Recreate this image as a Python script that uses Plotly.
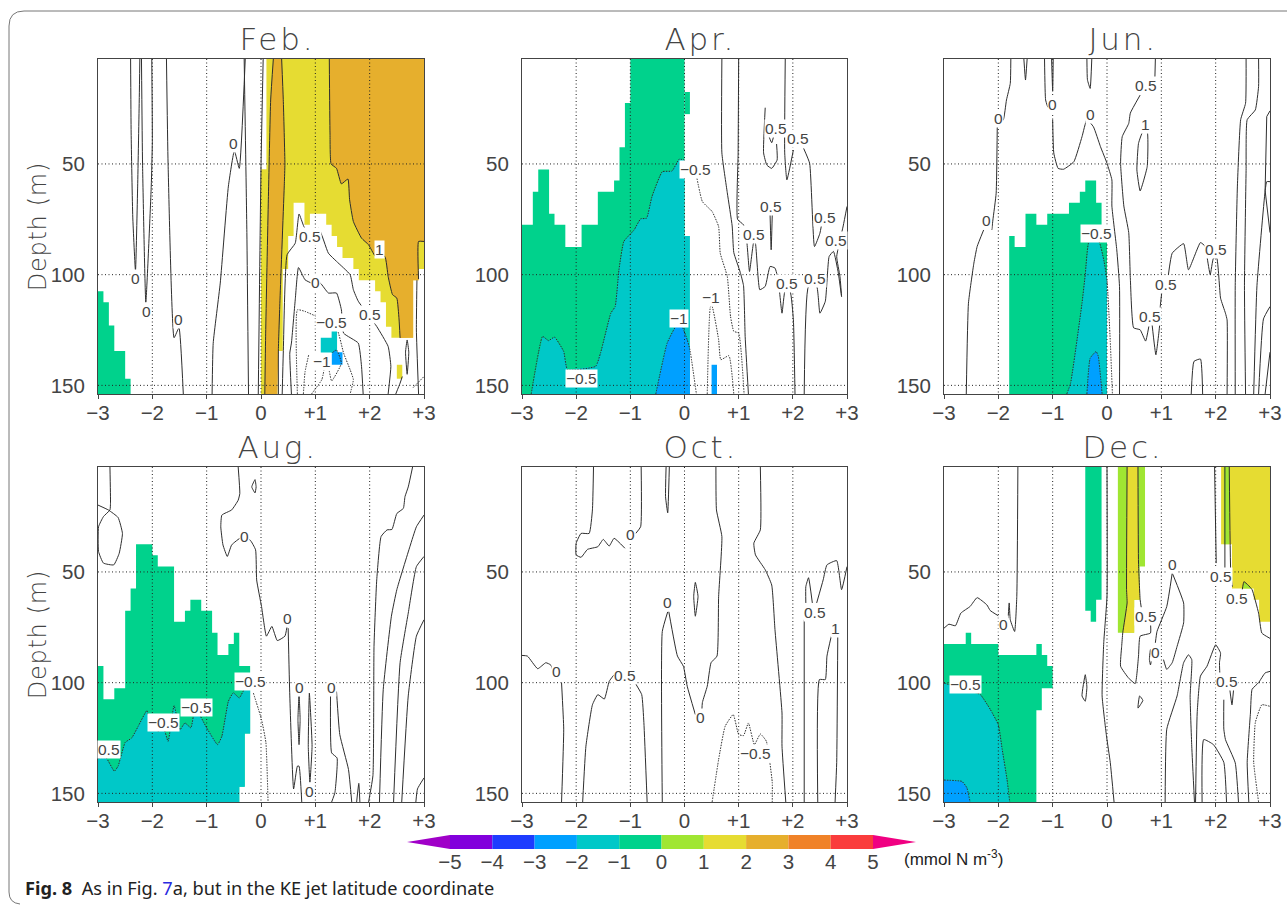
import plotly.graph_objects as go

WIDTH, HEIGHT = 1287, 906
TOP, BOT = 2.6, 153.9

# colour key ------------------------------------------------------------
CBAR_EDGES = [-5, -4, -3, -2, -1, 0, 1, 2, 3, 4, 5]
CBAR_COLORS = ["#8200dc", "#1e3cff", "#00a0ff", "#00c8c8", "#00d28c",
               "#a0e632", "#e6dc32", "#e6af2d", "#f08228", "#fa3c3c"]
CBAR_LOW, CBAR_HIGH = "#a000c8", "#f00082"
CBAR_TICKS = [-5, -4, -3, -2, -1, 0, 1, 2, 3, 4, 5]
CBAR_TEXT = ["−5", "−4", "−3", "−2", "−1", "0", "1", "2", "3", "4", "5"]
BLUE, TEAL, GREEN, LIME, YELLOW, ORANGE = "#00a0ff", "#00c8c8", "#00d28c", "#a0e632", "#e6dc32", "#e6af2d"

X_TICKS = [-3, -2, -1, 0, 1, 2, 3]
X_TEXT = ["−3", "−2", "−1", "0", "+1", "+2", "+3"]
Y_TICKS = [50, 100, 150]
GRID_X = [-2, -1, 0, 1, 2]
GRID_Y = [50, 100, 150]


def stair(edges, tops, bottom=BOT):
    pts = [(edges[0], bottom)]
    for i, t in enumerate(tops):
        pts += [(edges[i], t), (edges[i + 1], t)]
    pts.append((edges[-1], bottom))
    return pts


# ---------------------------------------------------------------- Feb.
FEB_GREEN_EDGES = [-3, -2.9, -2.8, -2.7, -2.5, -2.4]
FEB_GREEN_TOPS = [107.5, 112.5, 123, 134.5, 147]
FEB_YELLOW = [(0, BOT), (0, 52.4), (0.1, 52.4), (0.1, TOP), (3, TOP), (3, 97.5), (2.9, 97.5), (2.9, 102.5), (2.8, 102.5),
              (2.8, 128.5), (2.4, 128.5), (2.4, 123.5), (2.3, 123.5), (2.3, 112.5), (2.2, 112.5), (2.2, 107.5), (2.1, 107.5),
              (2.1, 102.5), (1.8, 102.5), (1.8, 97.5), (1.7, 97.5), (1.7, 92.5), (1.5, 92.5), (1.5, 87.5), (1.4, 87.5),
              (1.4, 82.5), (1.3, 82.5), (1.3, 77.5), (1.2, 77.5), (1.2, 72.5), (0.9, 72.5), (0.9, 77.5), (0.8, 77.5),
              (0.8, 67.5), (0.6, 67.5), (0.6, 82.5), (0.5, 82.5), (0.5, 97.5), (0.4, 97.5), (0.4, 134.5), (0.3, 134.5), (0.3, BOT)]
FEB_ORANGE_BAND = [(0.07, BOT), (0.086, 126.4), (0.135, 66.2), (0.178, 21.1), (0.227, TOP), (0.38, TOP), (0.41, 21),
                   (0.44, 50), (0.43, 58.7), (0.35, 111), (0.32, 134), (0.3, BOT)]
FEB_CONTOUR_ONE = [(1.257, TOP), (1.27, 36), (1.29, 50), (1.39, 52), (1.48, 59), (1.6, 56.8), (1.63, 66), (1.7, 76), (1.85, 83.5),
                   (1.98, 86.5), (2.1, 91.5), (2.28, 91.8), (2.34, 100.8), (2.42, 109), (2.5, 110.6), (2.54, 120), (2.56, 128.6)]
FEB_ORANGE_MAIN = FEB_CONTOUR_ONE + [(2.8, 128.5), (2.8, 102.5), (2.9, 102.5), (2.9, 85), (3, 85), (3, TOP)]
FEB_YELLOW_SMALL = [(2.5, 140.7), (2.6, 140.7), (2.6, 147), (2.5, 147)]
FEB_TEAL = [(1.3, 124.5), (1.4, 124.5), (1.4, 135.5), (1.3, 135.5), (1.3, 135.5), (1.1, 135.5), (1.1, 128.5), (1.3, 128.5)]
FEB_BLUE = [(1.3, 140.7), (1.3, 136), (1.36, 133.8), (1.4, 135), (1.5, 135), (1.5, 140.7)]
FEB_FILLS = [(GREEN, stair(FEB_GREEN_EDGES, FEB_GREEN_TOPS)), (YELLOW, FEB_YELLOW), (ORANGE, FEB_ORANGE_BAND),
             (ORANGE, FEB_ORANGE_MAIN), (YELLOW, FEB_YELLOW_SMALL), (TEAL, FEB_TEAL), (BLUE, FEB_BLUE)]
FEB_SOLID = [
    [(-2.4, TOP), (-2.39, 36), (-2.36, 74), (-2.31, 98.5), (-2.27, 60), (-2.24, 20), (-2.23, TOP)],
    [(-2.2, TOP), (-2.18, 50), (-2.12, 112.5), (-2.02, 60), (-2.0, 40), (-2.01, TOP)],
    [(-1.74, TOP), (-1.71, 50), (-1.6, 128.5), (-1.51, 124), (-1.43, BOT)],
    [(-0.9, BOT), (-0.88, 131), (-0.75, 103.8), (-0.6, 60), (-0.49, 44), (-0.4, 52), (-0.29, TOP)],
    [(-0.23, BOT), (-0.26, 81), (-0.31, TOP)],
    [(-0.05, BOT), (0, 51), (0.04, TOP)],
    [(0.07, BOT), (0.086, 126.4), (0.135, 66.2), (0.178, 21.1), (0.227, TOP)],
    [(0.38, TOP), (0.41, 21), (0.44, 50), (0.43, 58.7), (0.35, 111), (0.32, 134), (0.32, BOT)],
    FEB_CONTOUR_ONE,
    [(2.9, 102), (2.9, 85), (3, 85)],
    [(0.39, BOT), (0.41, 135.4), (0.48, 91), (0.63, 85.8), (0.7, 72.6), (0.79, 78.3), (0.9, 82), (1.06, 79), (1.24, 90.3), (1.39, 94),
     (1.64, 100), (1.7, 106.8), (1.79, 112), (2.13, 123.4), (2.34, 132.4), (2.39, 141.4), (2.34, BOT)],
    [(0.56, BOT), (0.53, 135.4), (0.56, 130.9), (0.63, 111.4), (0.69, 96.8), (0.81, 102.3), (0.93, 103.8), (1.09, 103.8), (1.24, 108.3),
     (1.39, 108.3), (1.48, 115.9), (1.52, 126.4), (1.79, 130.9), (1.85, 141.4), (1.88, BOT)],
    [(2.48, BOT), (2.56, 149), (2.6, 146)],
    [(2.69, 129.5), (2.66, 135), (2.69, 145), (2.72, 135), (2.69, 129.5)],
    [(2.87, 102.5), (2.86, 125), (2.9, BOT)],
]
FEB_DOTTED = [
    [(0.67, BOT), (0.67, 115.9), (0.81, 116.6), (1.02, 118.9), (1.39, 124.1), (1.52, 135.4), (1.64, 142.9), (1.7, 147.4), (1.64, BOT)],
    [(0.78, BOT), (0.81, 144), (0.88, 136)],
    [(0.93, BOT), (1.12, 147.4), (1.16, 143)],
    [(1.24, 141), (1.3, 148), (1.48, 140), (1.39, 134), (1.3, 135.5)],
    [(2.8, 151), (3, 146)],
]
FEB_LABELS = [(-0.5, 40.7, "0"), (-2.31, 101.6, "0"), (-2.1, 116.6, "0"), (-1.51, 120.4, "0"), (0.9, 82.8, "0.5"), (1, 103.5, "0"),
              (2, 117.8, "0.5"), (1.3, 121.4, "−0.5"), (1.12, 139.2, "−1"), (2.19, 88.8, "1")]

# ---------------------------------------------------------------- Apr.
APR_GREEN_EDGES = [-3, -2.8, -2.7, -2.5, -2.4, -2.2, -1.9, -1.6, -1.3, -1.2, -1.1, -1, 0]
APR_GREEN_TOPS = [77.5, 62.5, 52.5, 72.5, 77.5, 87.5, 77.5, 62.5, 57.5, 42.5, 22.5, TOP]
APR_GREEN_PATCH = [(0, 17.5), (0.1, 17.5), (0.1, 27.5), (0, 27.5)]
APR_CONTOUR_MINUS = [(-2.83, BOT), (-2.62, 127.9), (-2.51, 129.8), (-2.4, 128.2), (-2.23, 134.7), (-2.16, 142.9), (-1.64, 141.4),
                     (-1.55, 135.4), (-1.36, 117.4), (-1.28, 114.4), (-1.21, 97.8), (-1.12, 85), (-0.93, 79.8), (-0.81, 74.8),
                     (-0.7, 74.5), (-0.6, 64.7), (-0.41, 53.5), (-0.23, 53.2), (-0.1, 47.9), (0, 48.2)]
APR_TEAL = APR_CONTOUR_MINUS + [(0, 82.5), (0.1, 82.5), (0.1, BOT)]
APR_BLUE_EDGE = [(-0.53, BOT), (-0.32, 130.9), (-0.14, 122.6), (-0.06, 122.6), (0.05, 129.4), (0.1, 133.9)]
APR_BLUE = APR_BLUE_EDGE + [(0.1, BOT)]
APR_BLUE_RECT = [(0.5, 140.7), (0.6, 140.7), (0.6, BOT), (0.5, BOT)]
APR_FILLS = [(GREEN, stair(APR_GREEN_EDGES, APR_GREEN_TOPS)), (GREEN, APR_GREEN_PATCH), (TEAL, APR_TEAL), (BLUE, APR_BLUE), (BLUE, APR_BLUE_RECT)]
APR_SOLID = [
    [(0.69, TOP), (0.69, 45), (0.79, 63), (0.88, 78), (0.91, 90), (1.03, 99), (1.09, 105), (1.12, 128), (1.18, BOT)],
    [(1, TOP), (0.99, 45), (0.98, 75), (1.09, 77.5), (1.15, 85), (1.2, 98.6), (1.28, 85), (1.31, 86), (1.39, 106.8), (1.49, 105.3),
     (1.58, 96.3), (1.67, 97), (1.73, 102.3), (1.8, 117.4), (1.86, 106.8), (1.95, 107.6), (2.01, 120.4), (2.04, BOT)],
    [(2.21, BOT), (2.29, 105.3), (2.44, 105.3), (2.5, 117.4), (2.6, 112), (2.67, 91.8), (2.75, 89.5), (2.84, 99.3), (2.9, 109.9),
     (2.87, 100.8), (2.81, 91.8), (2.93, 78), (3, 69.2)],
    [(1.49, 24.6), (1.46, 45), (1.52, 50.5), (1.61, 52), (1.71, 48.2), (1.7, 41)],
    [(1.52, 35), (1.61, 40.4), (1.66, 36)],
    [(1.86, TOP), (1.85, 45), (1.89, 57.2), (2.01, 43.7)],
    [(2.2, 43), (2.31, 49.7), (2.4, 87.3), (2.5, 81.3), (2.53, 77.5)],
    [(1.58, 73), (1.6, 88.8), (1.62, 73)],
]
APR_DOTTED = [
    APR_CONTOUR_MINUS,
    [(0.23, 56.5), (0.33, 67), (0.51, 71.5), (0.63, 78.3), (0.66, 90.3), (0.79, 100.8), (0.85, 118.9), (0.91, 125.6), (1, 126.4), (1.1, BOT)],
    APR_BLUE_EDGE + [(0.22, BOT)],
    [(0.42, BOT), (0.48, 114.4), (0.51, 114.4), (0.63, 129.4), (0.67, 138.4), (0.82, 136.6), (0.91, BOT)],
]
APR_LABELS = [(1.69, 33.9, "0.5"), (2.1, 38.4, "0.5"), (1.6, 69.2, "0.5"), (1.29, 82, "0.5"), (2.6, 74.3, "0.5"), (2.79, 84.6, "0.5"),
              (1.89, 104.1, "0.5"), (2.4, 101.6, "0.5"), (0.2, 52.7, "−0.5"), (0.48, 110.3, "−1"), (-0.1, 119.6, "−1"), (-1.91, 146.7, "−0.5")]

# ---------------------------------------------------------------- Jun.
JUN_GREEN = [(-1.8, BOT), (-1.8, 82.5), (-1.7, 82.5), (-1.7, 87.5), (-1.5, 87.5), (-1.5, 72.5), (-1.3, 72.5), (-1.3, 77.5), (-1.1, 77.5),
             (-1.1, 72.5), (-0.7, 72.5), (-0.7, 67.5), (-0.5, 67.5), (-0.5, 62.5), (-0.4, 62.5), (-0.4, 57.5), (-0.2, 57.5), (-0.2, 67.5),
             (-0.1, 67.5), (-0.1, 85), (0, 85), (0, BOT)]
JUN_CONTOUR_MINUS = [(-0.74, BOT), (-0.67, 149), (-0.46, 112.9), (-0.4, 100), (-0.33, 85), (-0.15, 85), (-0.06, 93.3), (0, 102.3)]
JUN_TEAL = JUN_CONTOUR_MINUS + [(0, BOT)]
JUN_BLUE = [(-0.37, BOT), (-0.31, 137.7), (-0.2, 134.7), (-0.16, 136.9), (-0.09, BOT)]
JUN_FILLS = [(GREEN, JUN_GREEN), (TEAL, JUN_TEAL), (BLUE, JUN_BLUE)]
JUN_SOLID = [
    [(-2.59, BOT), (-2.55, 112.9), (-2.45, 94.8), (-2.39, 87.3), (-2.27, 79.8)],
    [(-2.12, 79.8), (-2.1, 75.3), (-2.04, 63.2), (-2.02, 33)],
    [(-1.97, 30.2), (-1.91, 30.2), (-1.85, 21.1), (-1.78, 13.6), (-1.77, TOP)],
    [(-1.53, TOP), (-1.5, 12.1), (-1.47, TOP)],
    [(-1.15, TOP), (-1.13, 21.1), (-1.09, 24.4)],
    [(-1.02, TOP), (-1, 17), (-0.99, TOP)],
    [(-1, 30), (-0.98, 45), (-0.9, 52), (-0.8, 52.4), (-0.61, 49), (-0.46, 37.7), (-0.37, 30), (-0.25, 33.2), (-0.12, 42.2), (0, 49.7),
     (0.09, 57.2), (0.09, 69), (0.18, 88.8), (0.23, 105.3), (0.23, BOT)],
    [(-0.37, TOP), (-0.36, 12), (-0.31, 15.9), (-0.28, TOP)],
    [(0.89, TOP), (0.88, 12.6)],
    [(0.61, 18.9), (0.43, 27), (0.4, 31.7), (0.28, 37.7), (0.25, 49.7), (0.31, 69), (0.4, 81), (0.43, 102), (0.49, 124), (0.61, 124.9),
     (0.71, 130), (0.77, 123.4)],
    [(0.83, 122.6), (0.9, 136.2), (0.97, 122.6), (0.98, 114.4), (1.01, 107.6)],
    [(1.13, 100), (1.2, 90.3), (1.41, 86), (1.5, 97.8), (1.72, 85.5), (1.81, 87.3), (1.84, 91.8), (1.9, 100), (1.96, 92.5), (2.02, 92.5),
     (2.09, 110.6), (2.18, 117.4), (2.21, 120.4), (2.21, BOT)],
    [(0.66, 35.4), (0.74, 35.4), (0.74, 51.2), (0.61, 62.2), (0.55, 52.7), (0.58, 40.7), (0.66, 35.4)],
    [(1.55, BOT), (1.6, 139.2), (1.72, 138.1), (1.76, BOT)],
    [(2.36, BOT), (2.36, 105), (2.4, 60), (2.46, 30), (2.55, 22.6), (2.56, TOP)],
    [(2.55, BOT), (2.53, 105), (2.56, 53), (2.58, 30), (2.73, 25.6), (2.79, 15), (2.79, TOP)],
    [(2.7, BOT), (2.76, 105), (2.91, 62.2), (2.94, 58), (3, 58)],
    [(2.79, BOT), (2.88, 120), (3, 114.4)],
    [(2.91, 62), (3, 81)],
    [(2.94, 28.6), (2.91, 62)],
    [(2.94, 28.6), (3, 26)],
    [(2.91, BOT), (3, 135)],
]
JUN_DOTTED = [
    JUN_CONTOUR_MINUS + [(0.06, 130), (0.1, BOT)],
    [(-0.37, BOT), (-0.31, 137.7), (-0.2, 134.7), (-0.16, 136.9), (-0.09, BOT)],
]
JUN_LABELS = [(-2, 29.4, "0"), (-1, 23.1, "0"), (-0.31, 27.6, "0"), (-2.21, 75.7, "0"), (0.71, 14.4, "0.5"), (0.71, 32.4, "1"),
              (-0.2, 81.3, "−0.5"), (2, 88.8, "0.5"), (1.09, 104.3, "0.5"), (0.8, 118.9, "0.5")]

# ---------------------------------------------------------------- Aug.
AUG_GREEN = [(-3, BOT), (-3, 92.5), (-2.9, 92.5), (-2.9, 107.5), (-2.7, 107.5), (-2.7, 102.5), (-2.5, 102.5), (-2.5, 67.5), (-2.4, 67.5),
             (-2.4, 57.5), (-2.3, 57.5), (-2.3, 37.5), (-2, 37.5), (-2, 42.5), (-1.9, 42.5), (-1.9, 47.5), (-1.6, 47.5), (-1.6, 72.5),
             (-1.4, 72.5), (-1.4, 67.5), (-1.3, 67.5), (-1.3, 62.5), (-1.1, 62.5), (-1.1, 67.5), (-0.9, 67.5), (-0.9, 77.5), (-0.8, 77.5),
             (-0.8, 87.5), (-0.6, 87.5), (-0.6, 82.5), (-0.5, 82.5), (-0.5, 77.5), (-0.4, 77.5), (-0.4, 92.5), (-0.2, 92.5), (-0.2, 123),
             (-0.3, 123), (-0.3, 147), (-0.4, 147), (-0.4, BOT)]
AUG_CONTOUR_MINUS = [(-3, 134), (-2.85, 134), (-2.7, 140), (-2.63, 137.7), (-2.5, 127), (-2.38, 125), (-2.26, 119.7), (-2.1, 112.6),
                     (-2.04, 118.2), (-1.89, 122), (-1.8, 120), (-1.71, 126.5), (-1.6, 110.4), (-1.49, 121.2), (-1.4, 118.2), (-1.29, 120.4),
                     (-1.21, 111.4), (-1, 120.4), (-0.8, 128), (-0.72, 124.2), (-0.6, 108.4), (-0.51, 104.6), (-0.4, 106.9), (-0.29, 102.4), (-0.2, 103.2)]
AUG_TEAL = AUG_CONTOUR_MINUS + [(-0.2, 123), (-0.3, 123), (-0.3, 147), (-0.4, 147), (-0.4, BOT), (-3, BOT)]
AUG_FILLS = [(GREEN, AUG_GREEN), (TEAL, AUG_TEAL)]
AUG_SOLID = [
    [(-2.78, TOP), (-2.77, 19), (-2.78, 22), (-2.9, 25), (-2.99, 29.6), (-2.99, 40.8), (-2.9, 46), (-2.71, 46.8), (-2.61, 41.6),
     (-2.55, 32.6), (-2.63, 25.4), (-2.81, 22), (-3, 19.8)],
    [(-0.11, 8.3), (-0.17, 11.6), (-0.11, 14.3), (-0.09, 11.6), (-0.11, 8.3)],
    [(-0.42, TOP), (-0.39, 14.6), (-0.42, 17.6), (-0.54, 22), (-0.72, 24.3), (-0.74, 29.6), (-0.7, 37.8), (-0.62, 43), (-0.54, 37.8),
     (-0.36, 34.4), (-0.2, 35.6), (-0.1, 40), (-0.08, 53.6), (0.01, 65.6), (0.1, 79), (0.2, 74.6), (0.3, 81), (0.44, 79), (0.48, 74.6)],
    [(0.5, 75.4), (0.53, 106), (0.6, 148), (0.67, 137.7), (0.7, 137.7), (0.75, BOT)],
    [(0.7, 105.4), (0.68, 116.7), (0.7, 128), (0.72, 116.7), (0.7, 105.4)],
    [(0.89, 104.7), (0.87, 128.7), (0.9, 145), (0.94, 128.7), (0.89, 104.7)],
    [(1.28, 104.6), (1.3, 131.7), (1.4, 134), (1.36, 149.7), (1.3, BOT)],
    [(1.39, 104), (1.45, 123.4), (1.61, 139.2), (1.67, BOT)],
    [(1.76, BOT), (1.8, 145.5), (1.82, BOT)],
    [(1.98, BOT), (2.06, 142), (2.08, 83.6), (2.13, 53.6), (2.21, 34), (2.32, 31), (2.41, 30.8), (2.5, 23.6), (2.62, 21.3), (2.65, 16),
     (2.71, 11.6), (2.79, TOP)],
    [(2.18, BOT), (2.25, 103), (2.4, 70), (2.5, 58), (2.74, 38.6), (2.86, 29.6), (3, 24.3)],
    [(2.44, BOT), (2.56, 91), (2.71, 68.6), (2.86, 47.6), (3, 43)],
    [(2.59, BOT), (2.71, 106), (2.86, 79), (3, 71.6)],
    [(2.85, BOT), (2.88, 148), (3, 143)],
]
AUG_DOTTED = [
    AUG_CONTOUR_MINUS,
    [(-0.14, 104.7), (0.01, 116.7), (0.09, 127), (0.13, BOT)],
]
AUG_LABELS = [(-2.79, 130.2, "0.5"), (-1.8, 117.9, "−0.5"), (-1.18, 111.1, "−0.5"), (-0.2, 99.7, "−0.5"), (-0.31, 34.1, "0"),
              (0.49, 71.2, "0"), (0.7, 102, "0"), (1.3, 102.4, "0"), (0.9, 149, "0")]

# ---------------------------------------------------------------- Oct.
OCT_FILLS = []
OCT_SOLID = [
    [(-1.68, TOP), (-1.7, 22), (-1.76, 32.6), (-1.91, 32.6), (-2, 37), (-2, 42.3), (-1.91, 43.4), (-1.79, 39.8), (-1.6, 38.6), (-1.5, 35.3),
     (-1.39, 38.3), (-1.3, 34.8), (-1.1, 39.3)],
    [(-0.9, 32.6), (-0.81, 29.6), (-0.8, TOP)],
    [(-0.34, TOP), (-0.35, 16), (-0.31, 23.3), (-0.28, TOP)],
    [(0.58, TOP), (0.59, 22), (0.69, 34), (0.63, 61), (0.6, 88), (0.49, 91), (0.42, 101.6), (0.33, 109), (0.32, 112.9)],
    [(0.2, 114.4), (0.05, 101.6), (-0.02, 92.6), (-0.13, 88), (-0.29, 67.9)],
    [(-0.31, 68), (-0.41, 76.9), (-0.41, BOT)],
    [(0.2, 54.7), (0.17, 61), (0.2, 70), (0.25, 61), (0.2, 54.7)],
    [(-3, 87.7), (-2.9, 88), (-2.71, 93.7), (-2.56, 91), (-2.47, 92), (-2.4, 96.4)],
    [(-2.27, 100), (-2.23, 121), (-2.27, BOT)],
    [(-1.88, BOT), (-1.82, 128.7), (-1.7, 110), (-1.6, 105.4), (-1.48, 107.4), (-1.39, 99.4), (-1.3, 96.4)],
    [(-0.9, 100.6), (-0.79, 105.4), (-0.75, 118), (-0.69, BOT)],
    [(1.4, TOP), (1.4, 31), (1.28, 37), (1.31, 42.3), (1.49, 49), (1.61, 55.9), (1.67, 76), (1.8, 113.7), (1.8, 128.7), (1.87, BOT)],
    [(2.21, BOT), (2.21, 71.6)],
    [(2.24, 64), (2.24, 56.6), (2.29, 52.6), (2.36, 64)],
    [(2.44, 64), (2.56, 53.6), (2.63, 46.8), (2.81, 44.9), (2.9, 58), (3, 47.6)],
    [(2.46, BOT), (2.49, 98.6), (2.6, 98.6), (2.63, 88), (2.71, 79)],
    [(2.83, 77.6), (2.81, 136), (2.78, BOT)],
]
OCT_DOTTED = [
    [(0.51, BOT), (0.63, 134.7), (0.75, 119.7), (0.9, 114.4), (1, 123.4), (1.09, 123.9), (1.18, 118.2), (1.29, 128), (1.4, 123.2),
     (1.51, 126.4), (1.62, 145), (1.62, BOT)],
]
OCT_LABELS = [(-1, 33, "0"), (-2.36, 94.9, "0"), (-1.1, 96.8, "0.5"), (-0.31, 63.8, "0"), (0.29, 115.6, "0"), (2.4, 68.3, "0.5"),
              (2.79, 75.4, "1"), (1.31, 132.1, "−0.5")]

# ---------------------------------------------------------------- Dec.
DEC_GREEN_LEFT = [(-3, BOT), (-3, 82.5), (-2.6, 82.5), (-2.6, 77.5), (-2.5, 77.5), (-2.5, 82.5), (-2, 82.5), (-2, 87.5), (-1.3, 87.5),
                  (-1.3, 82.5), (-1.2, 82.5), (-1.2, 87.5), (-1.1, 87.5), (-1.1, 92.5), (-1, 92.5), (-1, 102.5), (-1.2, 102.5),
                  (-1.2, 112.5), (-1.3, 112.5), (-1.3, BOT)]
DEC_GREEN_TOP = [(-0.4, TOP), (-0.1, TOP), (-0.1, 62.5), (-0.2, 62.5), (-0.2, 72.5), (-0.3, 72.5), (-0.3, 67.5), (-0.4, 67.5)]
DEC_LIME = [(0.2, TOP), (0.7, TOP), (0.7, 47.5), (0.6, 47.5), (0.6, 62.5), (0.5, 62.5), (0.5, 77.5), (0.2, 77.5)]
DEC_YELLOW = [(0.37, TOP), (0.57, TOP), (0.58, 46), (0.61, 62.5), (0.5, 62.5), (0.5, 77.5), (0.29, 77.5), (0.37, 64), (0.36, 58)]
DEC_YELLOW_RIGHT = [(2.1, TOP), (3, TOP), (3, 72.5), (2.8, 72.5), (2.8, 62.5), (2.7, 62.5), (2.7, 57.5), (2.3, 57.5), (2.3, 37.5), (2.1, 37.5)]
DEC_LIME_STRIP = [(2.15, TOP), (2.25, TOP), (2.25, 37.5), (2.15, 37.5)]
DEC_LIME_BUMP = [(2.49, 57.5), (2.52, 54.4), (2.6, 56), (2.67, 57.5)]
DEC_TEAL = [(-3, 100.2), (-2.48, 104), (-2.33, 105.4), (-2.15, 112), (-2, 119), (-1.93, 130), (-1.84, 143.7), (-1.79, BOT), (-3, BOT)]
DEC_BLUE = [(-3, 144), (-2.67, 144.6), (-2.58, 147.4), (-2.52, BOT), (-3, BOT)]
DEC_FILLS = [(GREEN, DEC_GREEN_LEFT), (GREEN, DEC_GREEN_TOP), (LIME, DEC_LIME), (YELLOW, DEC_YELLOW), (YELLOW, DEC_YELLOW_RIGHT),
             (LIME, DEC_LIME_STRIP), (LIME, DEC_LIME_BUMP), (TEAL, DEC_TEAL), (BLUE, DEC_BLUE)]
DEC_SOLID = [
    [(-3, 75.4), (-2.91, 73.6), (-2.79, 74.3), (-2.69, 68.6), (-2.52, 65.6), (-2.39, 61.6), (-2.21, 64.9), (-2.15, 67.4), (-2, 69.8)],
    [(-1.82, 70.9), (-1.8, 64), (-1.78, 71.6), (-1.7, 76.9), (-1.66, 61), (-1.64, TOP)],
    [(0, TOP), (0, 61), (-0.06, 82), (-0.09, 106), (-0.01, 124), (0.06, 136), (0.13, BOT)],
    [(-0.4, 96.4), (-0.46, 106), (-0.4, 108.4), (-0.37, 102), (-0.4, 96.4)],
    [(0.37, TOP), (0.36, 58), (0.37, 64), (0.29, 77.5), (0.27, 83.6), (0.25, 92.6), (0.4, 98), (0.52, 100.4), (0.58, 88), (0.61, 79),
     (0.8, 77.6), (0.8, 73)],
    [(0.63, 66), (0.61, 62.5), (0.58, 46), (0.57, TOP)],
    [(0.89, 82), (0.92, 76.9), (1.1, 65.6), (1.2, 50.6)],
    [(1.21, 51), (1.41, 64), (1.41, 73), (1.29, 83.6), (1.2, 91), (1.1, 94), (1.04, 89.6)],
    [(0.8, 85), (0.78, 89.5), (0.8, 92), (0.82, 89.5), (0.8, 85)],
    [(0.6, 106), (0.57, 111.5), (0.66, 108), (0.6, 106)],
    [(1.07, BOT), (1.1, 121), (1.29, 106), (1.41, 91), (1.5, 87.4), (1.56, 89.6), (1.53, 106), (1.56, 128.7), (1.61, BOT)],
    [(1.63, BOT), (1.66, 113.7), (1.72, 97), (1.84, 92.6), (2, 82.9), (2.09, 86.6), (2.07, 91), (2.09, 102.8)],
    [(2.15, 107.7), (2.15, 121), (2.18, 125.7), (2.36, 136.2), (2.42, BOT)],
    [(2.26, 103), (2.3, 110), (2.33, 103)],
    [(2.2, BOT), (2.15, 136), (1.96, 128), (1.78, 125.7), (1.75, BOT)],
    [(2.61, BOT), (2.58, 136), (2.64, 113.7), (2.67, 103), (2.79, 100), (2.91, 95.6), (3, 94.9)],
    [(3, 80), (2.85, 77.6), (2.79, 68.6), (2.67, 58), (2.6, 56), (2.52, 54.4), (2.49, 58)],
    [(1.98, TOP), (2.01, 46)],
    [(2.17, TOP), (2.17, 49)],
    [(2.25, TOP), (2.28, 52), (2.31, 56.6)],
]
DEC_DOTTED = [
    [(-3, 100.2), (-2.48, 104), (-2.33, 105.4), (-2.15, 112), (-2, 119), (-1.93, 130), (-1.84, 143.7), (-1.79, BOT)],
    [(-3, 144), (-2.67, 144.6), (-2.58, 147.4), (-2.52, BOT)],
    [(2.79, BOT), (2.7, 136), (2.73, 118), (2.85, 110), (3, 110.7)],
]
DEC_LABELS = [(-1.9, 73.9, "0"), (1.21, 46.8, "0"), (2.1, 52.1, "0.5"), (2.39, 61.9, "0.5"), (0.71, 70.1, "0.5"), (0.89, 86.6, "0"),
              (2.21, 99.7, "0.5"), (-2.61, 100.9, "−0.5")]

PANELS = [
    ("Feb.", FEB_FILLS, FEB_SOLID, FEB_DOTTED, FEB_LABELS),
    ("Apr.", APR_FILLS, APR_SOLID, APR_DOTTED, APR_LABELS),
    ("Jun.", JUN_FILLS, JUN_SOLID, JUN_DOTTED, JUN_LABELS),
    ("Aug.", AUG_FILLS, AUG_SOLID, AUG_DOTTED, AUG_LABELS),
    ("Oct.", OCT_FILLS, OCT_SOLID, OCT_DOTTED, OCT_LABELS),
    ("Dec.", DEC_FILLS, DEC_SOLID, DEC_DOTTED, DEC_LABELS),
]

# ---------------------------------------------------------------- layout
COL_PX = [(98, 424), (522, 847), (944, 1270)]
ROW_PX = [(59, 394), (467, 802)]
INK = "#444444"
TICK_FONT = dict(family="Liberation Sans", size=20.5, color=INK)
LABEL_FONT = dict(family="Liberation Sans", size=15.5, color=INK)
LIGHT = '"DejaVu Sans ExtraLight", "DejaVu Sans Light", "DejaVu Sans"'


def px(x):
    return x / WIDTH


def py(y):
    return 1 - y / HEIGHT


fig = go.Figure()
layout = {}
annotations = []

for i, (title, fills, solid, dotted, labels) in enumerate(PANELS):
    n = i + 1
    col, row = i % 3, i // 3
    xa, ya = f"x{n}", f"y{n}"
    x0, x1 = COL_PX[col]
    y0, y1 = ROW_PX[row]
    layout[f"xaxis{n}"] = dict(domain=[px(x0), px(x1)], range=[-3, 3], anchor=ya, tickvals=X_TICKS, ticktext=X_TEXT,
                               ticks="outside", ticklen=4, tickcolor=INK, tickfont=TICK_FONT, showgrid=False, zeroline=False,
                               ticklabelstandoff=-4, showline=True, mirror=True, linecolor="#444444", linewidth=1)
    layout[f"yaxis{n}"] = dict(domain=[py(y1), py(y0)], range=[BOT, TOP], anchor=xa, tickvals=Y_TICKS,
                               ticks="outside", ticklen=8, tickcolor="rgba(0,0,0,0)", tickfont=TICK_FONT, showgrid=False, zeroline=False,
                               showline=True, mirror=True, linecolor="#444444", linewidth=1)
    for color, pts in fills:
        fig.add_trace(go.Scatter(x=[p[0] for p in pts], y=[p[1] for p in pts], xaxis=xa, yaxis=ya, mode="lines",
                                 line=dict(width=0, color=color), fill="toself", fillcolor=color, hoverinfo="skip", showlegend=False))
    for g in GRID_X:
        fig.add_trace(go.Scatter(x=[g, g], y=[TOP, BOT], xaxis=xa, yaxis=ya, mode="lines", hoverinfo="skip", showlegend=False,
                                 line=dict(color="#222222", width=1, dash="1px,2.5px")))
    for g in GRID_Y:
        fig.add_trace(go.Scatter(x=[-3, 3], y=[g, g], xaxis=xa, yaxis=ya, mode="lines", hoverinfo="skip", showlegend=False,
                                 line=dict(color="#222222", width=1, dash="1px,2.5px")))
    for pts in solid:
        fig.add_trace(go.Scatter(x=[p[0] for p in pts], y=[p[1] for p in pts], xaxis=xa, yaxis=ya, mode="lines", hoverinfo="skip",
                                 showlegend=False, line=dict(color="#2e2e2e", width=1, shape="spline", smoothing=0.4)))
    for pts in dotted:
        fig.add_trace(go.Scatter(x=[p[0] for p in pts], y=[p[1] for p in pts], xaxis=xa, yaxis=ya, mode="lines", hoverinfo="skip",
                                 showlegend=False, line=dict(color="#2e2e2e", width=1, dash="1.5px,1.2px", shape="spline", smoothing=0.4)))
    for lx, ly, txt in labels:
        annotations.append(dict(x=lx, y=ly, xref=xa, yref=ya, text=txt, showarrow=False, font=LABEL_FONT,
                                bgcolor="white", borderpad=0))
    annotations.append(dict(x=px((x0 + x1) / 2 + 16), y=py(y0 - 20), xref="paper", yref="paper", text=title, showarrow=False,
                            font=dict(family=LIGHT, size=31, color=INK), xanchor="center", yanchor="middle"))
    if col == 0:
        annotations.append(dict(x=px(38), y=py((y0 + y1) / 2 + 0.5), xref="paper", yref="paper", text="Depth (m)", textangle=-90,
                                showarrow=False, font=dict(family=LIGHT, size=24, color=INK),
                                xanchor="center", yanchor="middle"))

# colour key axis
CB_X = "x7"
CB_Y = "y7"
STEP = (873 - 450) / 10
CB_LIMIT = 5 + 43 / STEP
layout["xaxis7"] = dict(domain=[px(407), px(916)], range=[-CB_LIMIT, CB_LIMIT], anchor=CB_Y, tickvals=CBAR_TICKS, ticktext=CBAR_TEXT,
                        ticks="", tickfont=TICK_FONT, showgrid=False, zeroline=False, showline=False, ticklabelstandoff=-2)
layout["yaxis7"] = dict(domain=[py(849), py(835)], range=[0, 1], anchor=CB_X, visible=False)
for i, color in enumerate(CBAR_COLORS):
    a, b = CBAR_EDGES[i], CBAR_EDGES[i + 1]
    fig.add_trace(go.Scatter(x=[a, b, b, a], y=[0, 0, 1, 1], xaxis=CB_X, yaxis=CB_Y, mode="lines", hoverinfo="skip", showlegend=False,
                             line=dict(width=0, color=color), fill="toself", fillcolor=color))
fig.add_trace(go.Scatter(x=[-CB_LIMIT, -5, -5], y=[0.5, 0, 1], xaxis=CB_X, yaxis=CB_Y, mode="lines", hoverinfo="skip", showlegend=False,
                         line=dict(width=0, color=CBAR_LOW), fill="toself", fillcolor=CBAR_LOW))
fig.add_trace(go.Scatter(x=[CB_LIMIT, 5, 5], y=[0.5, 0, 1], xaxis=CB_X, yaxis=CB_Y, mode="lines", hoverinfo="skip", showlegend=False,
                         line=dict(width=0, color=CBAR_HIGH), fill="toself", fillcolor=CBAR_HIGH))

annotations.append(dict(x=px(902), y=py(858), xref="paper", yref="paper", xanchor="left", yanchor="middle", showarrow=False,
                        text="(mmol N m<sup>-3</sup>)", font=dict(family="Liberation Sans", size=17, color="#222222")))
annotations.append(dict(x=px(23), y=py(888), xref="paper", yref="paper", xanchor="left", yanchor="middle", showarrow=False,
                        text="<b>Fig. 8</b>  As in Fig. <span style='color:#2a2ae0'>7</span>a, but in the KE jet latitude coordinate",
                        font=dict(family="Noto Sans", size=18.2, color="#222222")))

frame = dict(type="path", xref="paper", yref="paper",
             path=f"M {px(1287)},{py(11)} L {px(24)},{py(11)} Q {px(9)},{py(11)} {px(9)},{py(26)} "
                  f"L {px(9)},{py(892)} Q {px(9)},{py(903)} {px(20)},{py(904)}",
             line=dict(color="#777777", width=1))

fig.update_layout(width=WIDTH, height=HEIGHT, margin=dict(l=0, r=0, t=0, b=0, autoexpand=False), autosize=False,
                  paper_bgcolor="white", plot_bgcolor="white", showlegend=False,
                  annotations=annotations, shapes=[frame], **layout)

SCRIPT = """
document.body.style.margin='0';document.body.style.overflow='hidden';
function spaceTitles(){document.querySelectorAll('.annotation-text').forEach(function(t){
  if(/^(Feb|Apr|Jun|Aug|Oct|Dec)\\.$/.test(t.textContent)){t.style.letterSpacing='2.8px';}
  if(t.textContent==='Depth (m)'){t.style.letterSpacing='0.7px';}
});}
spaceTitles();
var gd=document.querySelector('.plotly-graph-div');
if(gd&&gd.on){gd.on('plotly_afterplot',spaceTitles);}
"""
fig.write_html("out.html", post_script=SCRIPT, config={"displayModeBar": False})
